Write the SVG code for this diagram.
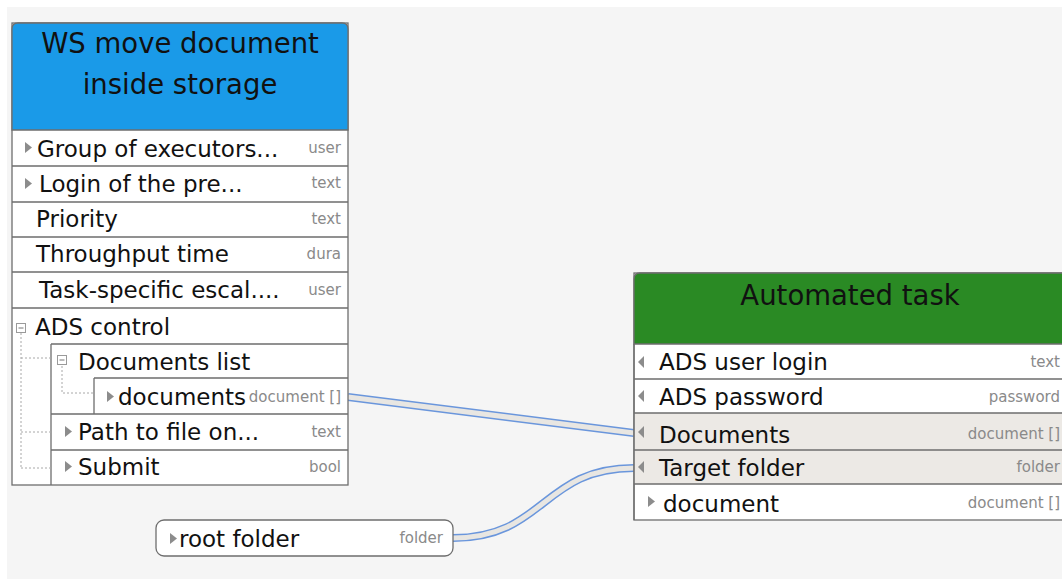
<svg xmlns="http://www.w3.org/2000/svg" width="1062" height="583" viewBox="0 0 1062 583">
<style>
  text { font-family: "DejaVu Sans", "Liberation Sans", sans-serif; fill: #111; }
  .title { font-size: 27.5px; text-anchor: middle; }
  .row { font-size: 23px; }
  .type { font-size: 15px; fill: #8a8a8a; text-anchor: end; }
  .box { fill: #ffffff; stroke: #6e6e6e; stroke-width: 1.3; }
  .ln { stroke: #6e6e6e; stroke-width: 1.3; fill: none; }
  .shade { fill: #ece9e5; }
  .tri { fill: #8c8c8c; }
  .tree { stroke: #a8a8a8; stroke-width: 1; stroke-dasharray: 2 2; fill: none; }
  .icon { fill: #fff; stroke: #9a9a9a; stroke-width: 1; }
  .wire-o { stroke: #6a96dc; stroke-width: 8; fill: none; }
  .wire-i { stroke: #e8e6e2; stroke-width: 5; fill: none; }
</style>
<rect x="0" y="0" width="1062" height="583" fill="#ffffff"/>
<rect x="7" y="7" width="1055" height="572" fill="#f5f5f5"/>

<g id="connectors">
  <path class="wire-o" d="M348,397 L634,433"/>
  <path class="wire-i" d="M348,397 L634,433"/>
  <path class="wire-o" d="M453,538 C545,538 542,468 634,468"/>
  <path class="wire-i" d="M453,538 C545,538 542,468 634,468"/>
</g>

<g id="ws-move-document">
  <rect class="box" x="12" y="23" width="336" height="462"/>
  <path d="M12,130 L12,29 Q12,23 18,23 L342,23 Q348,23 348,29 L348,130 Z" fill="#1a9ae8" stroke="#6e6e6e" stroke-width="1.3"/>
  <text class="title" x="180" y="53">WS move document</text>
  <text class="title" x="180" y="94">inside storage</text>
  <path class="ln" d="M12,166 H348 M12,202 H348 M12,237 H348 M12,272 H348 M12,308 H348 M51,344 H348 M94,378 H348 M51,414 H348 M51,450 H348 M51,344 V485 M94,378 V414"/>
  <polygon class="tri" points="25,142 32,147.5 25,153"/>
  <text class="row" x="37" y="157">Group of executors...</text>
  <text class="type" x="341" y="153">user</text>
  <polygon class="tri" points="25,178 32,183.5 25,189"/>
  <text class="row" x="39" y="192">Login of the pre...</text>
  <text class="type" x="341" y="188">text</text>
  <text class="row" x="36" y="227">Priority</text>
  <text class="type" x="341" y="224">text</text>
  <text class="row" x="36" y="262">Throughput time</text>
  <text class="type" x="341" y="259">dura</text>
  <text class="row" x="39" y="298">Task-specific escal....</text>
  <text class="type" x="341" y="295">user</text>
  <path class="tree" d="M21,333 V468 M21,358 H51 M21,432 H51 M21,468 H51 M62,366 V393 H94"/>
  <rect class="icon" x="16.5" y="323.5" width="9" height="9"/>
  <path d="M18.5,328 H23.5" stroke="#777" stroke-width="1"/>
  <text class="row" x="35" y="335">ADS control</text>
  <rect class="icon" x="57.5" y="355.5" width="9" height="9"/>
  <path d="M59.5,360 H64.5" stroke="#777" stroke-width="1"/>
  <text class="row" x="78" y="370">Documents list</text>
  <polygon class="tri" points="107,391 114,396.5 107,402"/>
  <text class="row" x="118" y="405">documents</text>
  <text class="type" x="341" y="402">document []</text>
  <polygon class="tri" points="65,426 72,431.5 65,437"/>
  <text class="row" x="78" y="440">Path to file on...</text>
  <text class="type" x="341" y="437">text</text>
  <polygon class="tri" points="65,461 72,466.5 65,472"/>
  <text class="row" x="78" y="475">Submit</text>
  <text class="type" x="341" y="472">bool</text>
</g>

<g id="automated-task">
  <rect class="box" x="634" y="273" width="441" height="247"/>
  <path d="M634,344 L634,279 Q634,273 640,273 L1069,273 Q1075,273 1075,279 L1075,344 Z" fill="#2a8a24" stroke="#6e6e6e" stroke-width="1.3"/>
  <text class="title" x="850" y="305">Automated task</text>
  <rect class="shade" x="634.7" y="413" width="440" height="71"/>
  <path class="ln" d="M634,379 H1075 M634,413 H1075 M634,450 H1075 M634,484 H1075 M634,344 V520"/>
  <polygon class="tri" points="644,356 638,362 644,368" fill="#9a9a9a"/>
  <text class="row" x="659" y="370">ADS user login</text>
  <text class="type" x="1060" y="367">text</text>
  <polygon class="tri" points="644,390 638,396 644,402"/>
  <text class="row" x="659" y="405">ADS password</text>
  <text class="type" x="1060" y="402">password</text>
  <polygon class="tri" points="644,426 638,432 644,438"/>
  <text class="row" x="659" y="443">Documents</text>
  <text class="type" x="1060" y="439">document []</text>
  <polygon class="tri" points="644,461 638,467 644,473"/>
  <text class="row" x="659" y="476">Target folder</text>
  <text class="type" x="1060" y="472">folder</text>
  <polygon class="tri" points="648,496 655,501.5 648,507"/>
  <text class="row" x="663" y="512">document</text>
  <text class="type" x="1060" y="508">document []</text>
</g>

<g id="root-folder">
  <rect class="box" x="156" y="520" width="297" height="36" rx="8"/>
  <polygon class="tri" points="170,533 177,538.5 170,544"/>
  <text class="row" x="179" y="547">root folder</text>
  <text class="type" x="443" y="543">folder</text>
</g>
</svg>
